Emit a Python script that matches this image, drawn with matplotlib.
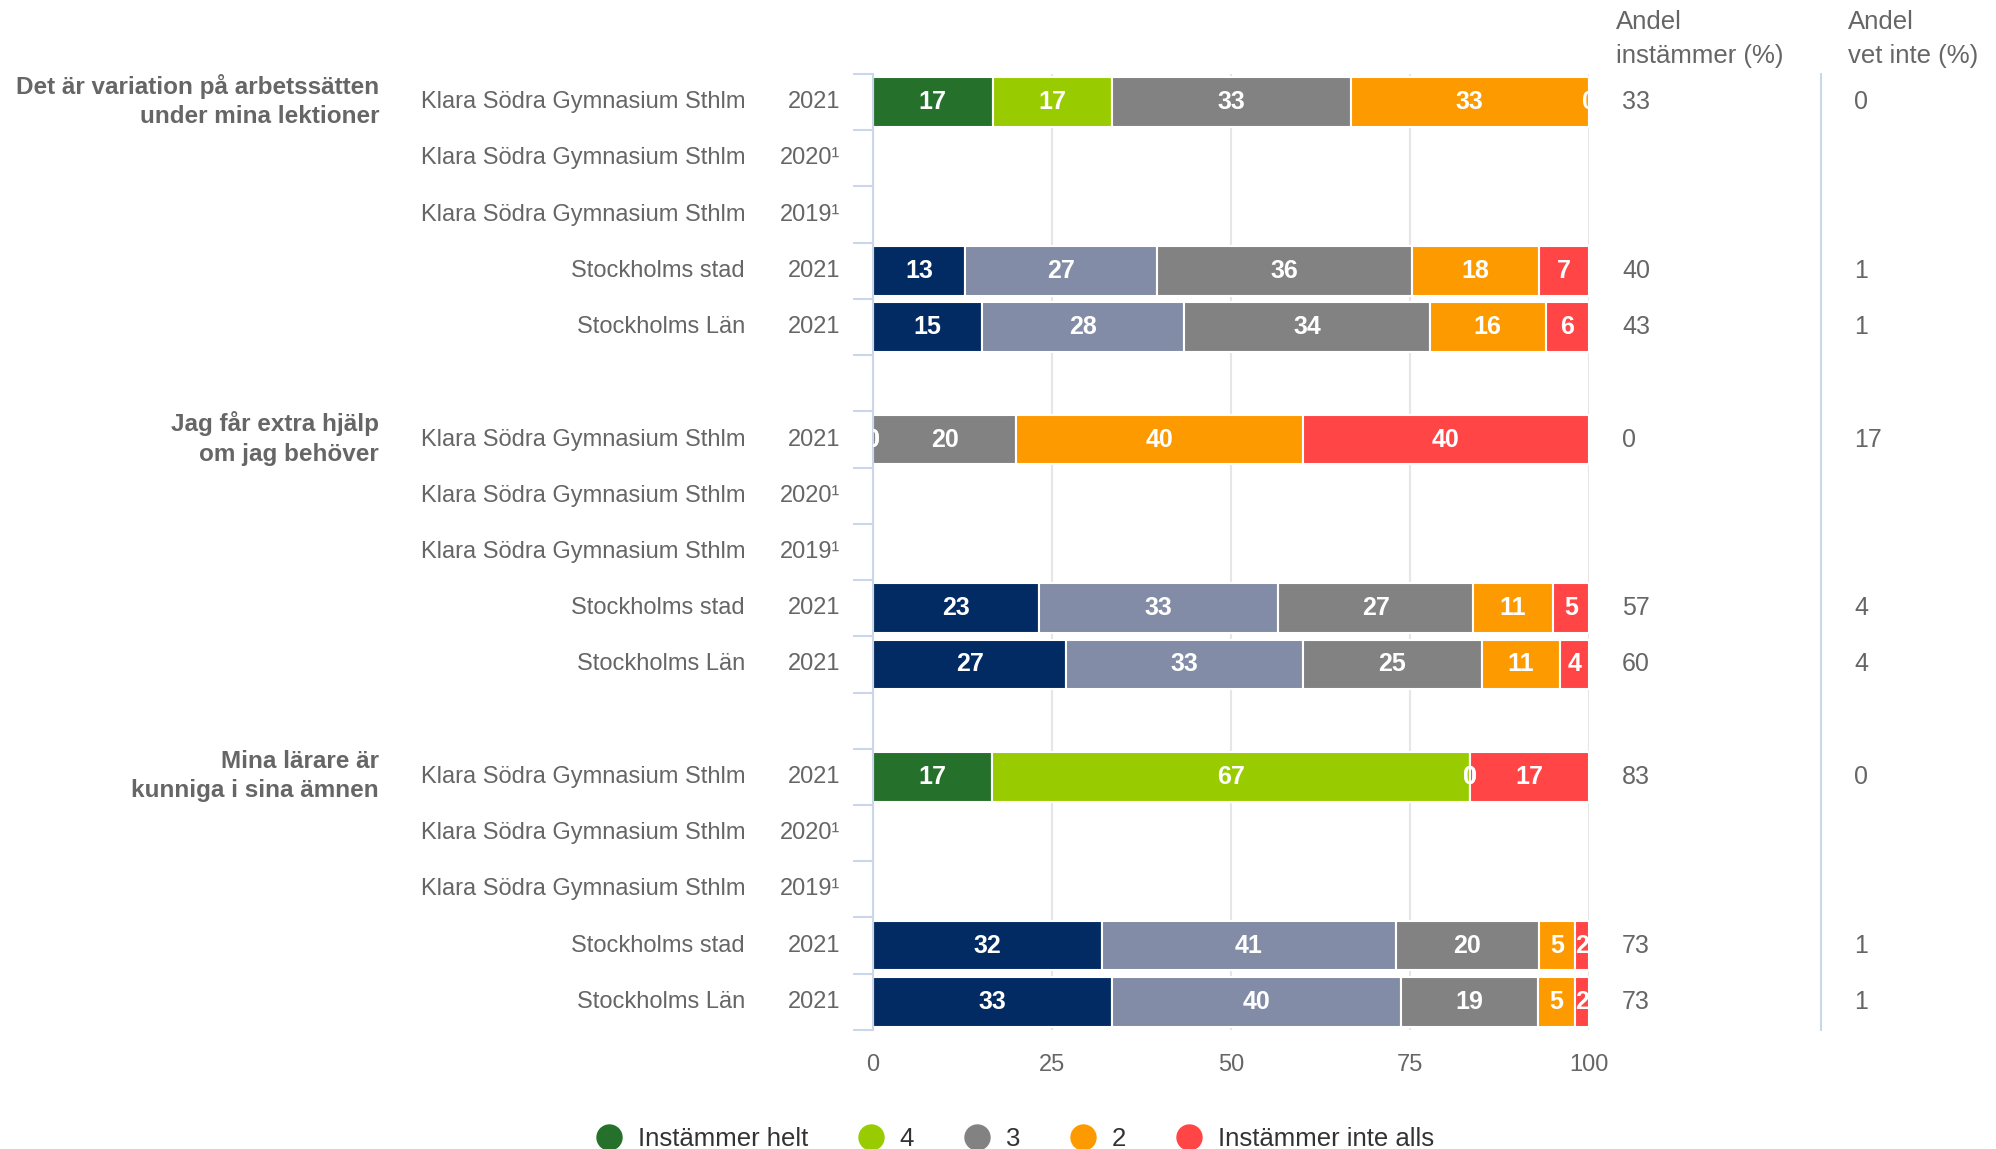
import numpy as np
from matplotlib import pyplot as plt
from matplotlib.lines import Line2D

plt.rcParams['font.family'] = ['Liberation Sans', 'DejaVu Sans']

# --- data -------------------------------------------------------------
fragor = ["Det är variation på arbetssätten\nunder mina lektioner",
          "Jag får extra hjälp\nom jag behöver",
          "Mina lärare är\nkunniga i sina ämnen"]
enheter = ["Klara Södra Gymnasium Sthlm", "Klara Södra Gymnasium Sthlm",
           "Klara Södra Gymnasium Sthlm", "Stockholms stad", "Stockholms Län"]
ar = ["2021", "2020¹", "2019¹", "2021", "2021"]

serier = ["Instämmer helt", "4", "3", "2", "Instämmer inte alls"]
N = None
# one list per answer, 15 rows (3 questions x 5 rows), None = no data
helt = [16.7, N, N, 13, 15,   0, N, N, 23, 27,   16.7, N, N, 32, 33]
fyra = [16.7, N, N, 27, 28,   0, N, N, 33, 33,   66.7, N, N, 41, 40]
tre  = [33.3, N, N, 36, 34,  20, N, N, 27, 25,      0, N, N, 20, 19]
tva  = [33.3, N, N, 18, 16,  40, N, N, 11, 11,      0, N, N, 5, 5]
inte = [0,    N, N, 7, 6,    40, N, N, 5, 4,     16.7, N, N, 2, 2]

andel_instammer = [33, N, N, 40, 43,   0, N, N, 57, 60,   83, N, N, 73, 73]
andel_vet_inte = [0, N, N, 1, 1,      17, N, N, 4, 4,      0, N, N, 1, 1]

farger = ["#25712b", "#99cc00", "#828282", "#fd9a00", "#ff4545"]
farger_jmf = ["#032b63", "#838ca6", "#828282", "#fd9a00", "#ff4545"]

# --- figure -----------------------------------------------------------
fig = plt.figure(figsize=(19.96, 11.49), dpi=100)
ax = fig.add_axes([0.4374, 0.1036, 0.3587, 0.832])

grå = "#666666"
rader = len(helt)
varden = np.array([[np.nan if v is None else v for v in s]
                   for s in [helt, fyra, tre, tva, inte]])

for r in range(rader):
    pos = (r // 5) * 6 + r % 5
    if np.isnan(varden[0, r]):
        continue
    rad = varden[:, r]
    bredd = rad / rad.sum() * 100
    kol = farger if r % 5 < 3 else farger_jmf
    vanster = 0
    for k in range(5):
        ax.barh(pos, bredd[k], left=vanster, height=0.88, color=kol[k],
                edgecolor="white", linewidth=1.5, zorder=2)
        t = ax.text(vanster + bredd[k] / 2, pos, "%.0f" % rad[k],
                    ha="center", va="center", color="white",
                    fontsize=18, fontweight="bold", zorder=3)
        t.set_clip_on(True)
        vanster += bredd[k]

ax.set_xlim(0, 100)
ax.set_ylim(16.5, -0.5)
for s in ["top", "right", "bottom"]:
    ax.spines[s].set_visible(False)
ax.spines["left"].set_color("#ccd6eb")
ax.spines["left"].set_linewidth(1.5)
ax.set_yticks(np.arange(-0.5, 17, 1))
ax.set_yticklabels([])
ax.tick_params(axis="y", length=14.4, width=1.5, color="#ccd6eb")
ax.set_xticks([0, 25, 50, 75, 100])
ax.tick_params(axis="x", length=0, pad=17.5, labelsize=17, labelcolor=grå)
ax.xaxis.grid(True, color="#e6e6e6", linewidth=1.5)
ax.set_axisbelow(True)

trans = ax.get_yaxis_transform()
for r in range(rader):
    pos = (r // 5) * 6 + r % 5
    ax.text(-0.1788, pos, enheter[r % 5], transform=trans, ha="right",
            va="center", fontsize=17, color=grå)
    ax.text(-0.046, pos, ar[r % 5], transform=trans, ha="right",
            va="center", fontsize=17, color=grå)
    if andel_instammer[r] is not None:
        ax.text(1.046, pos, str(andel_instammer[r]), transform=trans,
                ha="left", va="center", fontsize=18, color=grå)
        ax.text(1.370, pos, str(andel_vet_inte[r]), transform=trans,
                ha="left", va="center", fontsize=18, color=grå)

for g, fraga in enumerate(fragor):
    ax.text(-0.69, g * 6 - 0.02, fraga, transform=trans, ha="right",
            va="center", fontsize=17.5, fontweight="bold", color=grå,
            linespacing=1.36)

ax.text(1.0377, -1.12, "Andel\ninstämmer (%)", transform=trans, ha="left",
        va="center", fontsize=18.5, color=grå, linespacing=1.55)
ax.text(1.3617, -1.12, "Andel\nvet inte (%)", transform=trans, ha="left",
        va="center", fontsize=18.5, color=grå, linespacing=1.55)
ax.plot([1.324, 1.324], [0, 1], transform=ax.transAxes, color="#ccd6eb",
        linewidth=1.5, clip_on=False)

handles = [Line2D([], [], marker="o", linestyle="", markersize=18,
                  markerfacecolor=c, markeredgecolor=c) for c in farger]
fig.legend(handles, serier, loc="center", bbox_to_anchor=(0.5086, 0.0087),
           ncol=5, frameon=False, fontsize=18.5, handlelength=1,
           handletextpad=0.6, columnspacing=1.97, labelcolor="#333333")

plt.savefig("out.png", dpi=100)
